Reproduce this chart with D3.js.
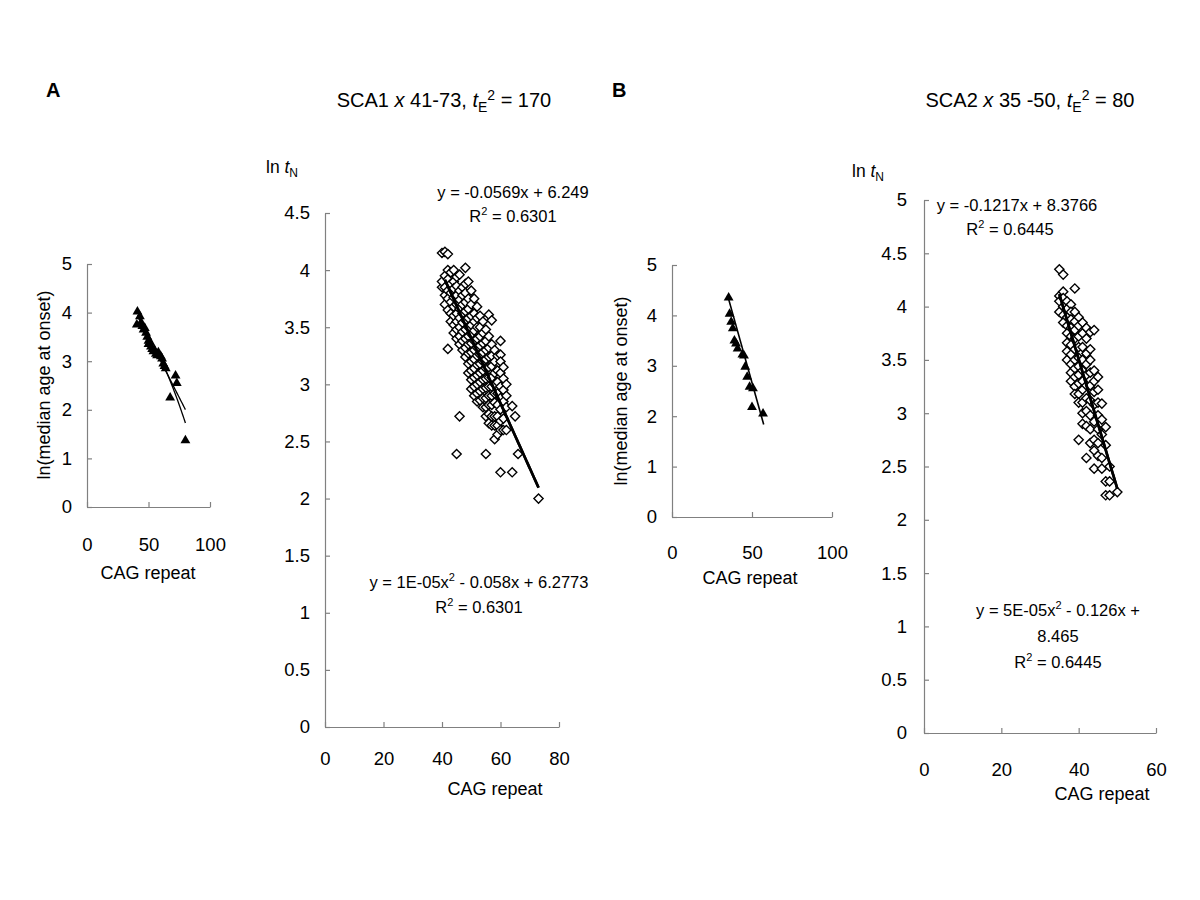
<!DOCTYPE html>
<html><head><meta charset="utf-8">
<script src="https://cdn.jsdelivr.net/npm/d3@7"></script>
<style>body{margin:0;background:#fff} text{font-family:Arial,"Liberation Sans",sans-serif;fill:#000}</style>
</head><body><svg id="c" width="1200" height="900"></svg>
<script>
// ---------- DATA ----------
// Panel A (SCA1), small plot: median age at onset by CAG repeat
const sca1Median = [[40.5,3.75],[41,4.02],[43,3.92],[44,3.8],[45,3.72],[46,3.65],[47,3.68],[48,3.58],[49,3.5],[50,3.42],[50,3.35],[51,3.38],[52,3.3],[53,3.25],[54,3.2],[55,3.22],[56,3.15],[57,3.12],[58,3.18],[60,3.1],[61,3.05],[62,2.95],[63,2.9],[64,2.85],[67.6,2.25],[72,2.7],[73,2.55],[80,1.37]];
const sca1MedianLinear = [-0.0497, 5.98];          // slope, intercept
const sca1MedianPoly = [-0.000525, 0.0075, 4.49];  // a, b, c
const sca1MedianRange = [41, 80];
// Panel A (SCA1), large plot: ln tN by CAG repeat
const sca1Indiv = [
[40,3.85],[40,3.9],[40,4.15],
[41,4.16],[41,3.95],[41,3.85],[41,3.78],[41,3.7],
[42,4.14],[42,4.0],[42,3.92],[42,3.82],[42,3.75],[42,3.65],[42,3.31],
[43,3.98],[43,3.88],[43,3.8],[43,3.72],[43,3.62],[43,3.55],
[44,4.0],[44,3.9],[44,3.84],[44,3.76],[44,3.68],[44,3.6],[44,3.52],[44,3.45],
[45,3.94],[45,3.86],[45,3.78],[45,3.7],[45,3.62],[45,3.55],[45,3.48],[45,3.4],[45,2.39],
[46,3.96],[46,3.82],[46,3.74],[46,3.66],[46,3.58],[46,3.5],[46,3.42],[46,3.35],[46,2.72],
[47,3.85],[47,3.78],[47,3.7],[47,3.62],[47,3.54],[47,3.46],[47,3.38],[47,3.3],
[48,4.02],[48,3.88],[48,3.8],[48,3.72],[48,3.64],[48,3.56],[48,3.48],[48,3.4],[48,3.32],[48,3.24],
[49,3.9],[49,3.75],[49,3.66],[49,3.58],[49,3.5],[49,3.42],[49,3.35],[49,3.27],[49,3.18],[49,3.1],
[50,3.82],[50,3.7],[50,3.6],[50,3.52],[50,3.44],[50,3.36],[50,3.28],[50,3.2],[50,3.12],[50,3.04],[50,2.96],
[51,3.75],[51,3.62],[51,3.55],[51,3.47],[51,3.38],[51,3.3],[51,3.22],[51,3.14],[51,3.06],[51,2.98],[51,2.9],
[52,3.68],[52,3.58],[52,3.5],[52,3.4],[52,3.32],[52,3.25],[52,3.17],[52,3.08],[52,3.0],[52,2.92],[52,2.85],
[53,3.6],[53,3.5],[53,3.42],[53,3.34],[53,3.26],[53,3.18],[53,3.1],[53,3.02],[53,2.94],[53,2.86],
[54,3.55],[54,3.45],[54,3.36],[54,3.28],[54,3.2],[54,3.12],[54,3.04],[54,2.96],[54,2.88],[54,2.8],
[55,3.48],[55,3.38],[55,3.3],[55,3.22],[55,3.14],[55,3.05],[55,2.97],[55,2.88],[55,2.8],[55,2.72],[55,2.39],
[56,3.61],[56,3.42],[56,3.32],[56,3.24],[56,3.15],[56,3.06],[56,2.98],[56,2.9],[56,2.82],[56,2.74],[56,2.66],
[57,3.56],[57,3.35],[57,3.25],[57,3.16],[57,3.06],[57,2.98],[57,2.9],[57,2.82],[57,2.72],[57,2.64],
[58,3.3],[58,3.2],[58,3.1],[58,3.0],[58,2.92],[58,2.84],[58,2.72],[58,2.64],[58,2.52],
[59,3.25],[59,3.12],[59,3.02],[59,2.92],[59,2.82],[59,2.72],[59,2.64],[59,2.56],
[60,3.38],[60,3.26],[60,3.2],[60,3.1],[60,2.98],[60,2.88],[60,2.78],[60,2.68],[60,2.6],[60,2.23],
[61,3.15],[61,3.05],[61,2.95],[61,2.85],[61,2.7],[61,2.6],
[62,3.0],[62,2.9],[62,2.8],[62,2.6],
[64,2.81],[64,2.23],[65,2.72],[66,2.39],[73,2.0]];
const sca1Linear = [-0.0569, 6.249];
const sca1Poly = [1e-5, -0.058, 6.2773];
const sca1Range = [41, 73];

// Panel B (SCA2), small plot
const sca2Median = [[35.4,4.35],[36,4.03],[37,3.87],[38,3.74],[39,3.5],[40,3.44],[41,3.34],[44,3.22],[45,3.2],[45.8,2.98],[47,2.78],[48.5,2.58],[50.6,2.55],[50,2.18],[56.9,2.05]];
const sca2MedianLinear = [-0.1135, 8.34];
const sca2MedianRange = [35, 57.3];
// Panel B (SCA2), large plot
const sca2Indiv = [
[35,4.35],[35,4.1],[35,4.05],[35,3.95],
[36,4.3],[36,4.14],[36,4.08],[36,4.0],[36,3.92],[36,3.85],
[37,4.05],[37,3.98],[37,3.9],[37,3.82],[37,3.75],[37,3.66],[37,3.58],[37,3.5],
[38,4.02],[38,3.95],[38,3.88],[38,3.8],[38,3.72],[38,3.64],[38,3.55],[38,3.46],[38,3.38],[38,3.3],
[39,4.17],[39,3.95],[39,3.86],[39,3.78],[39,3.7],[39,3.6],[39,3.5],[39,3.42],[39,3.34],[39,3.25],[39,3.18],
[40,3.9],[40,3.82],[40,3.72],[40,3.62],[40,3.52],[40,3.44],[40,3.36],[40,3.28],[40,3.18],[40,3.1],[40,2.75],
[41,3.85],[41,3.75],[41,3.62],[41,3.5],[41,3.4],[41,3.3],[41,3.22],[41,3.1],[41,3.0],[41,2.9],
[42,3.8],[42,3.7],[42,3.56],[42,3.46],[42,3.36],[42,3.26],[42,3.14],[42,3.02],[42,2.88],[42,2.58],
[43,3.76],[43,3.6],[43,3.5],[43,3.38],[43,3.26],[43,3.12],[43,2.98],[43,2.85],[43,2.72],
[44,3.78],[44,3.4],[44,3.3],[44,3.2],[44,3.08],[44,2.92],[44,2.75],[44,2.65],[44,2.48],
[45,3.34],[45,3.22],[45,3.1],[45,2.98],[45,2.85],[45,2.72],[45,2.6],
[46,3.09],[46,2.94],[46,2.8],[46,2.58],[46,2.48],
[47,2.87],[47,2.7],[47,2.36],[47,2.23],
[48,2.5],[48,2.36],[48,2.23],[50,2.26]];
const sca2Linear = [-0.1217, 8.3766];
const sca2Poly = [5e-5, -0.126, 8.465];
const sca2Range = [35, 50];

const smallXTicks = [0, 50, 100];
const smallYTicks = [0, 1, 2, 3, 4, 5];
const bigAXTicks = [0, 20, 40, 60, 80];
const bigAYTicks = [0, 0.5, 1, 1.5, 2, 2.5, 3, 3.5, 4, 4.5];
const bigBXTicks = [0, 20, 40, 60];
const bigBYTicks = [0, 0.5, 1, 1.5, 2, 2.5, 3, 3.5, 4, 4.5, 5];

// ---------- DRAW ----------
const svg = d3.select("#c");
const AX = "#808080";

function panel(c) {
  const x = d3.scaleLinear().domain(c.xd).range([c.l, c.r]);
  const y = d3.scaleLinear().domain(c.yd).range([c.b, c.t]);
  const g = svg.append("g");
  const xa = g.append("g").attr("transform", `translate(0,${c.b})`)
    .call(d3.axisBottom(x).tickValues(c.xt).tickSize(-5).tickSizeOuter(0).tickPadding(c.xpad).tickFormat(d => String(d)));
  const ya = g.append("g").attr("transform", `translate(${c.l},0)`)
    .call(d3.axisLeft(y).tickValues(c.yt).tickSize(-5).tickSizeOuter(0).tickPadding(c.ypad).tickFormat(d => String(d)));
  [xa, ya].forEach(a => {
    a.select(".domain").attr("stroke", AX).attr("stroke-width", 1.2);
    a.selectAll(".tick line").attr("stroke", AX).attr("stroke-width", 1.2);
    a.selectAll("text").attr("font-size", 18.5).attr("fill", "#000").style("font-family", "Arial, 'Liberation Sans', sans-serif");
  });
  return {x, y, g};
}

function fitLine(p, coef, range, width) {
  const n = 60, pts = d3.range(n + 1).map(i => {
    const xv = range[0] + (range[1] - range[0]) * i / n;
    const yv = coef.length === 2 ? coef[0] * xv + coef[1] : coef[0] * xv * xv + coef[1] * xv + coef[2];
    return [p.x(xv), p.y(yv)];
  });
  p.g.append("path").attr("d", d3.line()(pts)).attr("fill", "none").attr("stroke", "#000").attr("stroke-width", width);
}

function triangles(p, data) {
  p.g.append("g").selectAll("path").data(data).join("path")
    .attr("d", d3.symbol(d3.symbolTriangle, 42))
    .attr("transform", d => `translate(${p.x(d[0])},${p.y(d[1])})`).attr("fill", "#000");
}
function diamonds(p, data) {
  const s = 4.6;
  p.g.append("g").selectAll("path").data(data).join("path")
    .attr("d", `M0,${-s}L${s},0L0,${s}L${-s},0Z`)
    .attr("transform", d => `translate(${p.x(d[0])},${p.y(d[1])})`)
    .attr("fill", "#fff").attr("stroke", "#000").attr("stroke-width", 1.4);
}

function txt(x, y, parts, opts = {}) {
  const t = svg.append("text").attr("x", x).attr("y", y).attr("font-size", opts.size || 16.5)
    .attr("text-anchor", opts.anchor || "middle");
  if (opts.bold) t.attr("font-weight", "bold");
  if (opts.rotate) t.attr("transform", `rotate(-90,${x},${y})`);
  parts.forEach(pt => {
    if (typeof pt === "string") { t.append("tspan").text(pt); return; }
    const s = t.append("tspan").text(pt.t);
    if (pt.i) s.attr("font-style", "italic");
    if (pt.fs) s.attr("font-size", pt.fs);
    if (pt.dy) s.attr("dy", pt.dy);
  });
  return t;
}

// Panel A small
const pA1 = panel({xd: [0, 100], yd: [0, 5], l: 87, r: 210, t: 264, b: 507, xt: smallXTicks, yt: smallYTicks, xpad: 31, ypad: 15});
triangles(pA1, sca1Median);
fitLine(pA1, sca1MedianLinear, sca1MedianRange, 1.3);
fitLine(pA1, sca1MedianPoly, sca1MedianRange, 1.3);
txt(148, 579, ["CAG repeat"], {size: 18});
txt(50, 385, ["ln(median age at onset)"], {size: 18, rotate: true});

// Panel A large
const pA2 = panel({xd: [0, 80], yd: [0, 4.5], l: 325, r: 559, t: 213, b: 727, xt: bigAXTicks, yt: bigAYTicks, xpad: 25, ypad: 15});
diamonds(pA2, sca1Indiv);
fitLine(pA2, sca1Linear, sca1Range, 2.6);
fitLine(pA2, sca1Poly, sca1Range, 2.6);
txt(495, 795, ["CAG repeat"], {size: 18});
txt(266, 173, ["ln ", {t: "t", i: true}, {t: "N", fs: 12, dy: 4}], {size: 17.5, anchor: "start"});
txt(513, 198, ["y = -0.0569x + 6.249"]);
txt(513, 222, ["R", {t: "2", fs: 11, dy: -7}, {t: " = 0.6301", dy: 7}]);
txt(479, 588, ["y = 1E-05x", {t: "2", fs: 11, dy: -7}, {t: " - 0.058x + 6.2773", dy: 7}]);
txt(479, 613, ["R", {t: "2", fs: 11, dy: -7}, {t: " = 0.6301", dy: 7}]);

// Panel B small
const pB1 = panel({xd: [0, 100], yd: [0, 5], l: 672, r: 832, t: 265, b: 517, xt: smallXTicks, yt: smallYTicks, xpad: 29, ypad: 15});
triangles(pB1, sca2Median);
fitLine(pB1, sca2MedianLinear, sca2MedianRange, 1.6);
txt(750, 584, ["CAG repeat"], {size: 18});
txt(627, 391, ["ln(median age at onset)"], {size: 18, rotate: true});

// Panel B large
const pB2 = panel({xd: [0, 60], yd: [0, 5], l: 924, r: 1156, t: 200, b: 733, xt: bigBXTicks, yt: bigBYTicks, xpad: 30, ypad: 17});
diamonds(pB2, sca2Indiv);
fitLine(pB2, sca2Linear, sca2Range, 2.6);
fitLine(pB2, sca2Poly, sca2Range, 2.6);
txt(1102, 800, ["CAG repeat"], {size: 18});
txt(852, 177, ["ln ", {t: "t", i: true}, {t: "N", fs: 12, dy: 4}], {size: 17.5, anchor: "start"});
txt(1017, 211, ["y = -0.1217x + 8.3766"]);
txt(1010, 235, ["R", {t: "2", fs: 11, dy: -7}, {t: " = 0.6445", dy: 7}]);
txt(1058, 616, ["y = 5E-05x", {t: "2", fs: 11, dy: -7}, {t: " - 0.126x +", dy: 7}]);
txt(1058, 642, ["8.465"]);
txt(1058, 668, ["R", {t: "2", fs: 11, dy: -7}, {t: " = 0.6445", dy: 7}]);

// Titles
txt(46, 97, ["A"], {size: 20, bold: true, anchor: "start"});
txt(612, 97, ["B"], {size: 20, bold: true, anchor: "start"});
txt(444, 107, ["SCA1 ", {t: "x", i: true}, " 41-73, ", {t: "t", i: true}, {t: "E", fs: 14, dy: 5}, {t: "2", fs: 14, dy: -12}, {t: " = 170", dy: 7}], {size: 20});
txt(1030, 107, ["SCA2 ", {t: "x", i: true}, " 35 -50, ", {t: "t", i: true}, {t: "E", fs: 14, dy: 5}, {t: "2", fs: 14, dy: -12}, {t: " = 80", dy: 7}], {size: 20});
</script></body></html>
